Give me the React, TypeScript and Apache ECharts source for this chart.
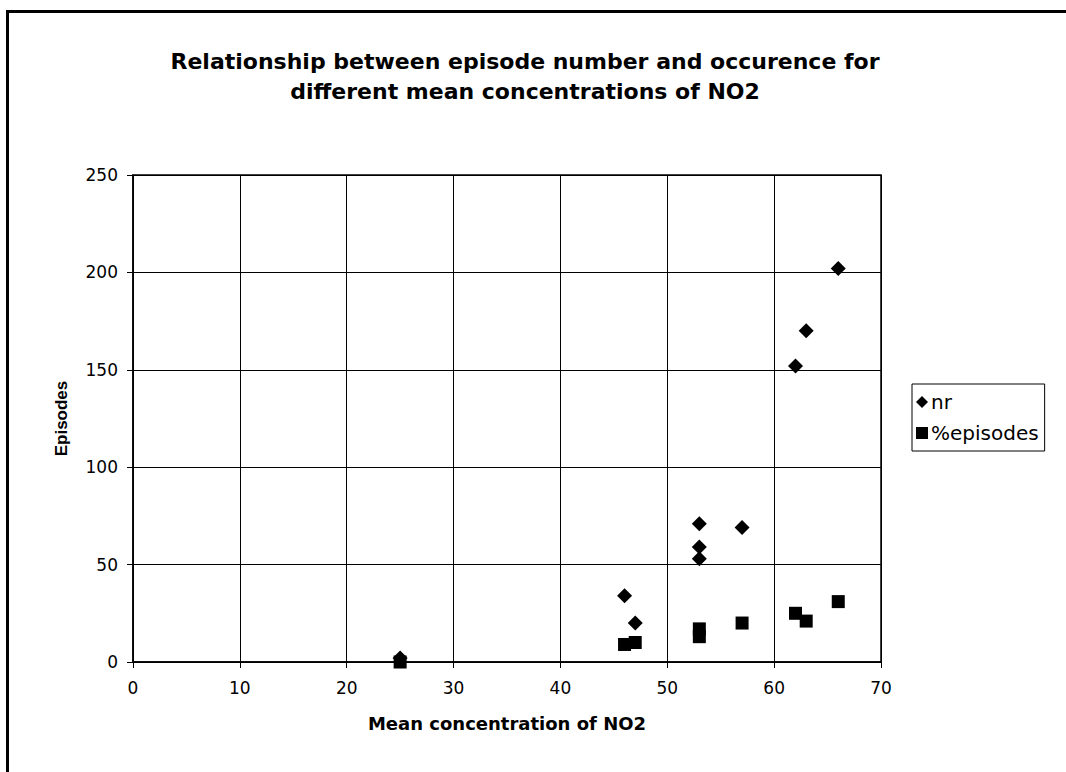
import React, { useEffect, useRef } from "react";
import * as echarts from "echarts";

const titleLines = [
  "Relationship between episode number and occurence for",
  "different mean concentrations of NO2",
];
const xAxisName = "Mean concentration of NO2";
const yAxisName = "Episodes";
const seriesNames = ["nr", "%episodes"];

const nrX = [25, 46, 47, 53, 53, 53, 57, 62, 63, 66];
const nrY = [2, 34, 20, 71, 59, 53, 69, 152, 170, 202];
const pctX = [25, 46, 47, 53, 53, 57, 62, 63, 66];
const pctY = [0, 9, 10, 17, 13, 20, 25, 21, 31];

const WIDE = "'DejaVu Sans', Arial, sans-serif";
const NARROW = "'Liberation Sans', Arial, Helvetica, sans-serif";

export default function App() {
  const ref = useRef<HTMLDivElement>(null);
  useEffect(() => {
    if (!ref.current) return;
    const chart = echarts.init(ref.current, null, { renderer: "svg" });
    chart.setOption({
      animation: false,
      backgroundColor: "#ffffff",
      textStyle: { fontFamily: WIDE },
      title: {
        text: titleLines.join("\n"),
        left: 520,
        textAlign: "center",
        top: 41,
        textStyle: {
          fontFamily: WIDE,
          fontWeight: "bold",
          fontSize: 22,
          lineHeight: 30,
          color: "#000",
        },
      },
      graphic: [
        {
          type: "line",
          shape: { x1: 6, y1: 11.5, x2: 1066, y2: 11.5 },
          style: { stroke: "#000", lineWidth: 3 },
        },
        {
          type: "line",
          shape: { x1: 7.5, y1: 11, x2: 7.5, y2: 772 },
          style: { stroke: "#000", lineWidth: 3 },
        },
      ],
      grid: {
        left: 133,
        right: 1066 - 881,
        top: 175,
        bottom: 772 - 662,
        show: true,
        borderColor: "#000",
        borderWidth: 1.5,
      },
      legend: {
        orient: "vertical",
        left: 912,
        top: 384,
        borderColor: "#000",
        borderWidth: 1,
        padding: [8, 6, 8, 4],
        itemGap: 11,
        itemWidth: 12,
        itemHeight: 12,
        textStyle: { fontFamily: WIDE, fontSize: 20, color: "#000", padding: [0, 0, 0, -2] },
        data: [
          { name: seriesNames[0], icon: "diamond" },
          { name: seriesNames[1], icon: "rect" },
        ],
      },
      xAxis: {
        type: "value",
        min: 0,
        max: 70,
        interval: 10,
        name: xAxisName,
        nameLocation: "middle",
        nameGap: 52,
        nameTextStyle: { fontFamily: WIDE, fontWeight: "bold", fontSize: 18, color: "#000" },
        axisLine: { show: true, lineStyle: { color: "#000", width: 1.5 } },
        axisTick: { show: true, length: 6, lineStyle: { color: "#000" } },
        axisLabel: { fontFamily: WIDE, fontSize: 17, color: "#000", margin: 17 },
        splitLine: { show: true, lineStyle: { color: "#000", width: 1 } },
      },
      yAxis: {
        type: "value",
        min: 0,
        max: 250,
        interval: 50,
        name: yAxisName,
        nameLocation: "middle",
        nameGap: 63,
        nameTextStyle: { fontFamily: NARROW, fontWeight: "bold", fontSize: 17, color: "#000" },
        axisLine: { show: true, lineStyle: { color: "#000", width: 1.5 } },
        axisTick: { show: true, length: 6, lineStyle: { color: "#000" } },
        axisLabel: { fontFamily: WIDE, fontSize: 17, color: "#000", margin: 15 },
        splitLine: { show: true, lineStyle: { color: "#000", width: 1 } },
      },
      series: [
        {
          name: seriesNames[0],
          type: "scatter",
          symbol: "diamond",
          symbolSize: [15, 15],
          itemStyle: { color: "#000", opacity: 1 },
          data: nrX.map((x, i) => [x, nrY[i]]),
          z: 3,
        },
        {
          name: seriesNames[1],
          type: "scatter",
          symbol: "rect",
          symbolSize: [13, 13],
          itemStyle: { color: "#000", opacity: 1 },
          data: pctX.map((x, i) => [x, pctY[i]]),
          z: 4,
        },
      ],
    });
    return () => chart.dispose();
  }, []);
  return (
    <div
      ref={ref}
      style={{ position: "fixed", left: 0, top: 0, width: 1066, height: 772 }}
    />
  );
}
